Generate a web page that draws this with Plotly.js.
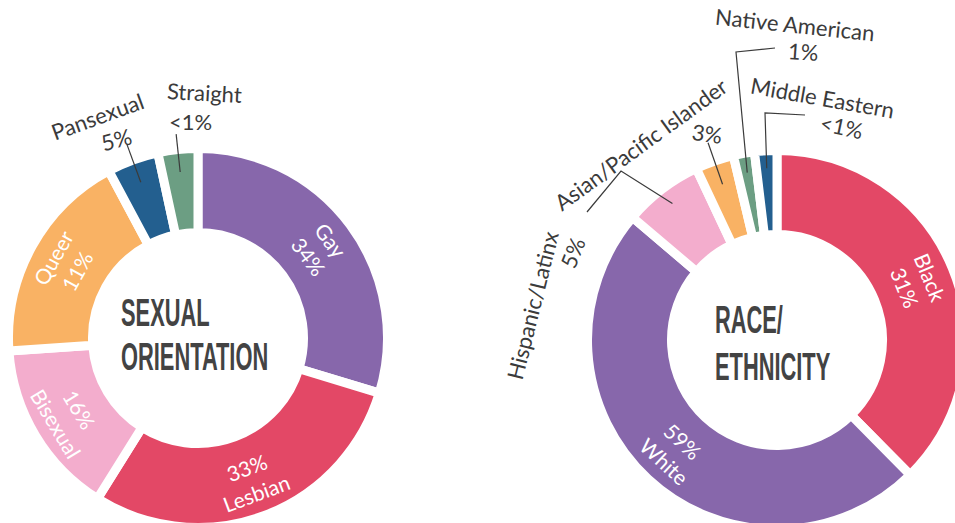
<!DOCTYPE html>
<html><head><meta charset="utf-8">
<script src="https://cdn.plot.ly/plotly-3.0.1.min.js"></script>
<style>html,body{margin:0;padding:0;overflow:hidden;background:#fff}#chart{width:1000px;height:560px}</style>
</head><body><div id="chart"></div>
<script>
// ---------- DATA ----------
const orientLabels = ['Gay', 'Lesbian', 'Bisexual', 'Queer', 'Pansexual', 'Straight'];
const orientShares = [29.7, 29.2, 15.0, 18.3, 4.4, 3.4];   // slice sizes as drawn
const orientPct = ['34%', '33%', '16%', '11%', '5%', '<1%'];
const orientInside = [true, true, true, true, false, false];

const raceLabels = ['Black', 'White', 'Hispanic/Latinx', 'Asian/Pacific Islander', 'Native American', 'Middle Eastern'];
const raceShares = [37.6, 48.6, 6.8, 3.3, 1.8, 1.9];      // slice sizes as drawn
const racePct = ['31%', '59%', '5%', '3%', '1%', '<1%'];
const raceInside = [true, true, false, false, false, false];

const centerTitles = [['SEXUAL', 'ORIENTATION'], ['RACE/', 'ETHNICITY']];

// ---------- STYLE / LAYOUT ----------
const W = 1000, H = 560;
const orientColors = ['#8767AB', '#E34866', '#F3ADCD', '#F9B264', '#235F8F', '#6C9E83'];
const raceColors = ['#E34866', '#8767AB', '#F3ADCD', '#F9B264', '#6C9E83', '#235F8F'];
const GAP = 9;
const RVIS = 185, HOLEVIS = 110;
const RPATH = RVIS + GAP / 2;
const HOLE = (HOLEVIS - GAP / 2) / RPATH;
const RING_TEXT_R = 152;
const pies = [{cx: 198, cy: 338}, {cx: 777, cy: 340}];
const TXT = '#3b3b3b';
const FONT = 'Lato, "Noto Sans", sans-serif';
const LABEL_SIZE = 22, INSIDE_SIZE = 21;
const CONDENSE = 0.56;

const px = x => x / W;
const py = y => 1 - y / H;

function domainFor(p) {
  return {x: [px(p.cx - RPATH), px(p.cx + RPATH)], y: [py(p.cy + RPATH), py(p.cy - RPATH)]};
}
function midAngles(vals) {
  const tot = vals.reduce((a, b) => a + b, 0);
  let c = 0;
  return vals.map(v => { const m = (c + v / 2) / tot * 360; c += v; return m; });
}
function pieTrace(vals, labels, colors, p) {
  return {
    type: 'pie', values: vals, labels: labels, sort: false, direction: 'clockwise', rotation: 0,
    hole: HOLE, marker: {colors: colors, line: {color: '#ffffff', width: GAP}},
    textinfo: 'none', hoverinfo: 'none', showlegend: false, domain: domainFor(p)
  };
}
function radialPt(vals, idx, p, r) {
  const a = midAngles(vals)[idx] * Math.PI / 180;
  return [p.cx + r * Math.sin(a), p.cy - r * Math.cos(a)];
}
function pathShape(points) {
  const d = points.map((q, i) => (i ? 'L ' : 'M ') + px(q[0]) + ',' + py(q[1])).join(' ');
  return {type: 'path', xref: 'paper', yref: 'paper', path: d, line: {color: TXT, width: 1.2}};
}
function lbl(text, x, y, angle, opts) {
  return Object.assign({
    text: text, x: px(x), y: py(y), xref: 'paper', yref: 'paper', showarrow: false,
    textangle: angle, xanchor: 'center', yanchor: 'middle',
    font: {family: FONT, size: LABEL_SIZE, color: TXT}
  }, opts || {});
}

// tangential labels inside the big slices, placed from the data
function insideAnnotations(vals, labels, pct, inside, p) {
  const mids = midAngles(vals);
  const out = [];
  labels.forEach((l, i) => {
    if (!inside[i]) return;
    const m = mids[i];
    const flipped = m > 90 && m < 270;
    const txt = flipped ? pct[i] + '<br>' + l : l + '<br>' + pct[i];
    const ang = flipped ? m - 180 : (m > 270 ? m - 360 : m);
    const q = radialPt(vals, i, p, RING_TEXT_R);
    out.push(lbl(txt, q[0], q[1], ang, {font: {family: FONT, size: INSIDE_SIZE, color: '#ffffff'}}));
  });
  return out;
}

// leader lines: anchor computed from the data, elbows as layout
const shapes = [
  pathShape([radialPt(orientShares, 4, pies[0], 166), radialPt(orientShares, 4, pies[0], 206)]),
  pathShape([radialPt(orientShares, 5, pies[0], 167), radialPt(orientShares, 5, pies[0], 205)]),
  pathShape([radialPt(raceShares, 3, pies[1], 165), radialPt(raceShares, 3, pies[1], 209)]),
  pathShape([radialPt(raceShares, 4, pies[1], 170), [736, 52], [775, 48]]),
  pathShape([radialPt(raceShares, 5, pies[1], 172), [765, 113], [805, 115]]),
  pathShape([radialPt(raceShares, 2, pies[1], 172), [621, 171], [587, 212]])
];

const annotations = [
  lbl(orientLabels[4], 97, 116, -20),
  lbl(orientPct[4], 116, 139, -15),
  lbl(orientLabels[5], 204, 93, 3),
  lbl(orientPct[5], 190, 121, 0),
  lbl(raceLabels[4], 795, 25, 6),
  lbl(racePct[4], 803, 51, 4),
  lbl(raceLabels[5], 822, 97, 10),
  lbl(racePct[5], 841, 127, 12),
  lbl(raceLabels[3], 640, 144, -36),
  lbl(racePct[3], 707, 133, 8),
  lbl(raceLabels[2], 532, 305, -76),
  lbl(racePct[2], 573, 253, -68)
].concat(
  insideAnnotations(orientShares, orientLabels, orientPct, orientInside, pies[0]),
  insideAnnotations(raceShares, raceLabels, racePct, raceInside, pies[1])
);

const centerIdx = [];
const centerPos = [[[119, 312], [119, 356.5]], [[713, 319], [713, 366]]];
centerTitles.forEach((lines, k) => lines.forEach((t, j) => {
  centerIdx.push(annotations.length);
  annotations.push(lbl(t, centerPos[k][j][0], centerPos[k][j][1], 0, {
    xanchor: 'left', font: {family: '"Liberation Sans", Arial, sans-serif', size: 39, color: '#434343', weight: 700}
  }));
}));

const data = [
  pieTrace(orientShares, orientLabels, orientColors, pies[0]),
  pieTrace(raceShares, raceLabels, raceColors, pies[1])
];
const layout = {
  width: W, height: H, margin: {l: 0, r: 0, t: 0, b: 0},
  paper_bgcolor: '#ffffff', plot_bgcolor: '#ffffff', showlegend: false,
  shapes: shapes, annotations: annotations
};
const gd = document.getElementById('chart');
Plotly.newPlot(gd, data, layout, {staticPlot: true, displayModeBar: false}).then(() => {
  gd.querySelectorAll('.annotation').forEach(g => {
    const idx = +g.getAttribute('data-index');
    if (centerIdx.indexOf(idx) >= 0) {
      const t = g.querySelector('text.annotation-text');
      if (!t) return;
      const bb = t.getBBox();
      t.setAttribute('transform', 'translate(' + bb.x + ',0) scale(' + CONDENSE + ',1) translate(' + (-bb.x) + ',0)');
    }
  });
});
</script>
</body></html>
